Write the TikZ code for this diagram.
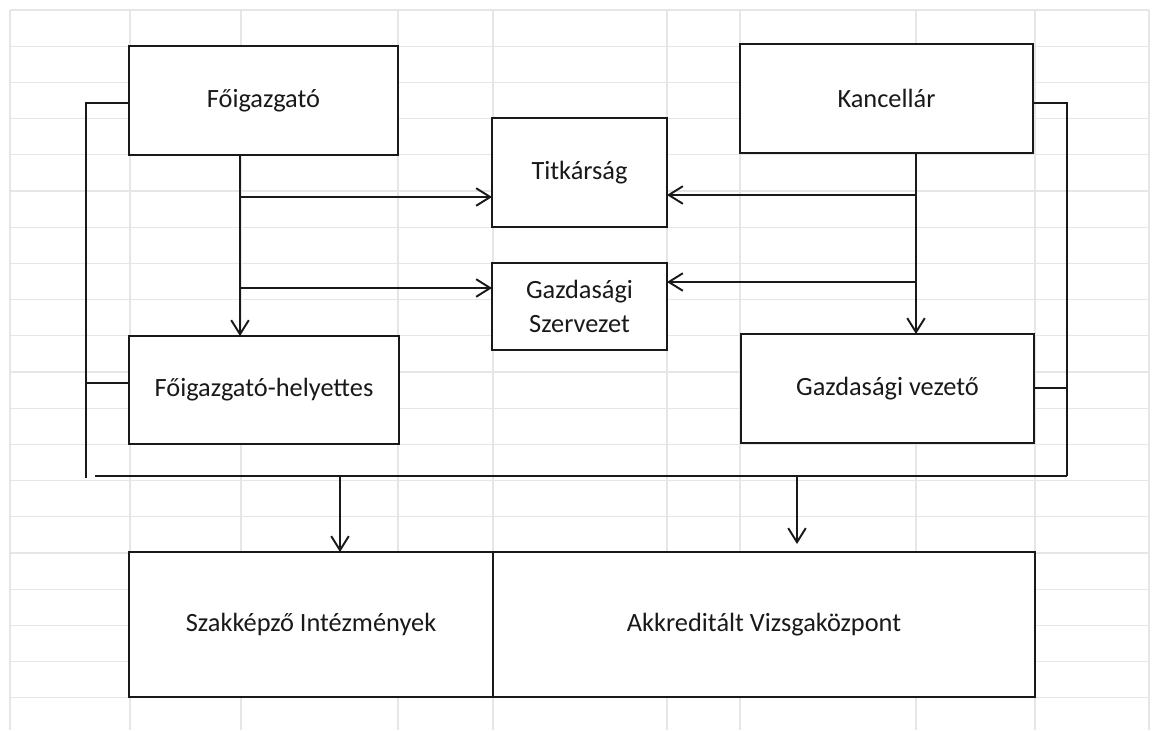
\documentclass[tikz,border=0pt]{standalone}
\usepackage{fontspec}
\setmainfont{Carlito}
\usetikzlibrary{arrows.meta}
\definecolor{ink}{RGB}{25,25,25}
\definecolor{gridc}{RGB}{230,230,230}
\begin{document}
\begin{tikzpicture}[x=0.02cm,y=-0.02cm,
  box/.style={draw=ink, line width=1.3pt, fill=white, inner sep=0pt, outer sep=0pt,
    align=center, text=ink, font=\fontsize{15}{19}\selectfont},
  link/.style={draw=ink, line width=1.1pt},
  arr/.style={link, -{Straight Barb[length=8pt,width=10pt,line width=1.1pt]}},
  gridline/.style={draw=gridc, line width=0.6pt}]
\useasboundingbox (0,0) rectangle (1152,730);
\fill[white] (0,0) rectangle (1152,730);
% faint spreadsheet grid
\foreach \x in {10,130,241,398,493,667,740,916,1035,1149}
  \draw[gridline] (\x,10) -- (\x,730);
\foreach \k in {0,...,19}
  \draw[gridline] (10,{10+36.2*\k}) -- (1149,{10+36.2*\k});
% boxes
\node[box, minimum width=5.38cm, minimum height=2.18cm] (fo) at (263.5,100.5) {Főigazgató};
\node[box, minimum width=5.86cm, minimum height=2.18cm] (kan) at (886.5,98.5) {Kancellár};
\node[box, minimum width=3.5cm, minimum height=2.18cm] (tit) at (579.5,172.5) {Titkárság};
\node[box, minimum width=3.5cm, minimum height=1.74cm] (gsz) at (579.5,306.5) {Gazdasági\\Szervezet};
\node[box, minimum width=5.4cm, minimum height=2.16cm] (foh) at (264,390) {Főigazgató-helyettes};
\node[box, minimum width=5.86cm, minimum height=2.18cm] (gv) at (887.5,388.5) {Gazdasági vezető};
\node[box, minimum width=7.28cm, minimum height=2.9cm] (szak) at (311,624.5) {Szakképző Intézmények};
\node[box, minimum width=10.84cm, minimum height=2.9cm] (akk) at (764,624.5) {Akkreditált Vizsgaközpont};
% helper coordinates
\coordinate (fx) at (240,0);
\coordinate (kx) at (916,0);
\coordinate (lx) at (86,0);
\coordinate (rx) at (1067,0);
\coordinate (ytl) at (0,197);
\coordinate (ytr) at (0,195);
\coordinate (ygl) at (0,288);
\coordinate (ygr) at (0,282);
\coordinate (ytop) at (0,103);
\coordinate (yfoh) at (0,383);
\coordinate (ygv) at (0,388);
\coordinate (lbot) at (86,478);
\coordinate (bl) at (95,476);
\coordinate (br) at (1067,476);
\coordinate (d1) at (340,0);
\coordinate (d2) at (797,0);
% left side connectors
\draw[arr] (fo.south -| fx) -- (foh.north -| fx);
\draw[arr] (fx |- ytl) -- (tit.west |- ytl);
\draw[arr] (fx |- ygl) -- (gsz.west |- ygl);
% right side connectors
\draw[arr] (kan.south -| kx) -- (gv.north -| kx);
\draw[arr] (kx |- ytr) -- (tit.east |- ytr);
\draw[arr] (kx |- ygr) -- (gsz.east |- ygr);
% brackets
\draw[link] (fo.west |- ytop) -- (lx |- ytop) -- (lbot);
\draw[link] (foh.west |- yfoh) -- (lx |- yfoh);
\draw[link] (kan.east |- ytop) -- (rx |- ytop) -- (br);
\draw[link] (gv.east |- ygv) -- (rx |- ygv);
\draw[link] (bl) -- (br);
% down arrows
\draw[arr] (d1 |- bl) -- (szak.north -| d1);
\draw[arr, shorten >=0.16cm] (d2 |- bl) -- (akk.north -| d2);
\end{tikzpicture}
\end{document}
